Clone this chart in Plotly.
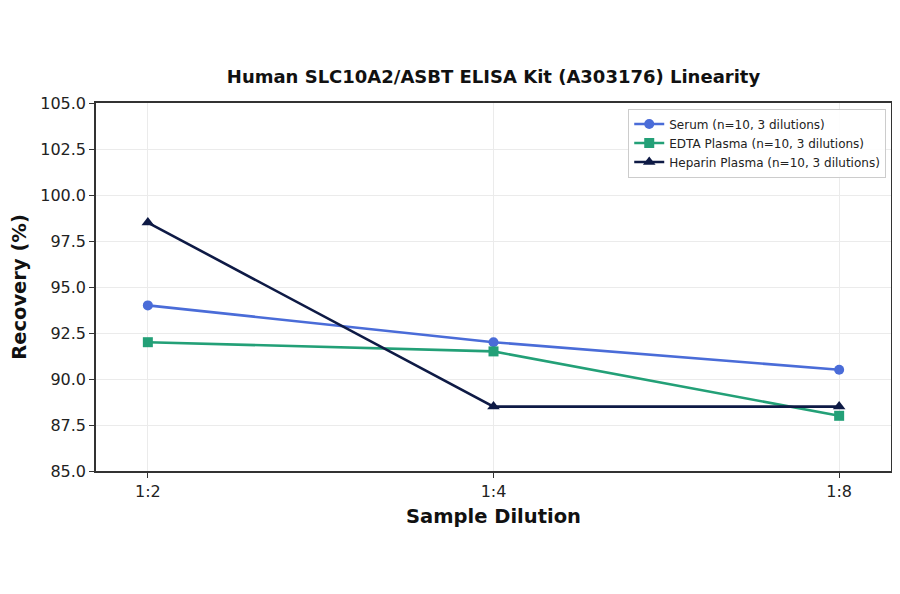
import plotly.graph_objects as go

dilutions = ['1:2', '1:4', '1:8']
serum = [94.0, 92.0, 90.5]
edta = [92.0, 91.5, 88.0]
heparin = [98.5, 88.5, 88.5]

names = ['Serum (n=10, 3 dilutions)', 'EDTA Plasma (n=10, 3 dilutions)', 'Heparin Plasma (n=10, 3 dilutions)']
colors = ['#4a6cd8', '#23a077', '#0e1a45']
symbols = ['circle', 'square', 'triangle-up']
sizes = [10, 10, 11]

fig = go.Figure()
for vals, name, col, sym, sz in zip([serum, edta, heparin], names, colors, symbols, sizes):
    fig.add_trace(go.Scatter(x=dilutions, y=vals, mode='lines+markers', name=name,
                             line=dict(color=col, width=2.6),
                             marker=dict(symbol=sym, size=sz, color=col)))

axis_common = dict(showline=True, linecolor='#333333', linewidth=1.5, mirror=True,
                   ticks='outside', ticklen=5, tickcolor='#333333', automargin=False,
                   showgrid=True, gridcolor='#ebebeb', gridwidth=1, zeroline=False,
                   tickfont=dict(size=16, color='#222222'))

# page body adds an 8px offset, so the figure is 884x578
fig.update_layout(
    width=884, height=578,
    paper_bgcolor='white', plot_bgcolor='white',
    font=dict(family='DejaVu Sans', color='#111111'),
    margin=dict(l=88, r=1, t=95, b=115, autoexpand=False),
    title=dict(text='<b>Human SLC10A2/ASBT ELISA Kit (A303176) Linearity</b>',
               x=485.5 / 884, xanchor='center', y=1 - 69 / 578, yanchor='middle',
               font=dict(size=18, color='#111111')),
    xaxis=dict(axis_common, type='category', range=[-0.15, 2.15],
               title=dict(text='<b>Sample Dilution</b>', font=dict(size=19.5), standoff=9)),
    yaxis=dict(axis_common, range=[85, 105], dtick=2.5, tickformat='.1f',
               title=dict(text='<b>Recovery (%)</b>', font=dict(size=19.5), standoff=15)),
    legend=dict(x=0.994, y=0.985, xanchor='right', yanchor='top',
                bgcolor='rgba(255,255,255,0.9)', bordercolor='#cccccc', borderwidth=1,
                font=dict(size=12, color='#222222'), tracegroupgap=0),
    showlegend=True,
)

fig.write_html('out.html')
